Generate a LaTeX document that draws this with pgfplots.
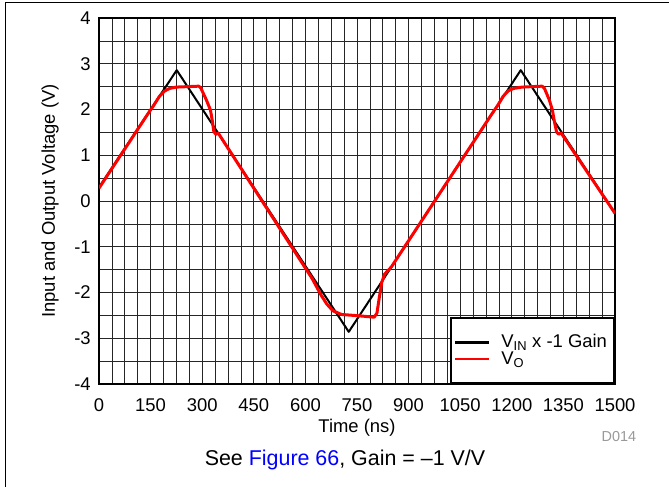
\documentclass[border=0pt]{standalone}
\usepackage{pgfplots}
\pgfplotsset{compat=1.18}
\usepackage{fontspec}
\setmainfont{Liberation Sans}
\definecolor{tired}{RGB}{255,0,0}
\definecolor{tiblue}{RGB}{0,0,255}
\begin{document}
\fontsize{18.5}{22}\selectfont
\begin{tikzpicture}
\useasboundingbox (0bp,0bp) rectangle (669bp,-487bp);
\draw[line width=1.2bp] (5.5bp,-487bp) -- (5.5bp,-2.3bp) -- (669bp,-2.3bp);
\begin{axis}[
  at={(99bp,-384bp)}, anchor=south west,
  scale only axis, width=516bp, height=366bp,
  xmin=0, xmax=1500, ymin=-4, ymax=4,
  xtick={0,150,...,1500}, ytick={-4,-3,...,4},
  minor x tick num=3, minor y tick num=1,
  grid=both,
  major grid style={black!85, line width=0.75bp},
  minor grid style={black!85, line width=0.75bp},
  axis line style={line width=2bp},
  tick style={draw=none},
  ticklabel style={font=\fontsize{18.5}{22}\selectfont},
  xticklabel style={yshift=-8bp},
  yticklabel style={xshift=-2bp},
  /pgf/number format/assume math mode=true,
  /pgf/number format/1000 sep={},
  xlabel={Time (ns)},
  ylabel={Input and Output Voltage (V)},
  label style={font=\fontsize{18.5}{22}\selectfont},
  xlabel style={yshift=5bp},
  ylabel style={yshift=3bp},
  legend style={at={(1,0)}, anchor=south east, draw=black, line width=2bp,
    fill=white, font=\fontsize{18.5}{22}\selectfont, inner xsep=3bp, inner ysep=15bp,
    row sep=-1bp, legend cell align=left, nodes={inner ysep=1bp, inner xsep=4bp}},
  legend image code/.code={\draw[#1, line width=2.4bp] (0bp,0bp) -- (34bp,0bp);},
  clip=true,
]
\addplot[black, line width=2bp, line join=round] coordinates {
  (0,0.30) (226,2.86) (726,-2.86) (1226,2.86) (1500,-0.27)
};
\addlegendentry{\hspace{7bp}V\textsubscript{IN} x -1 Gain}
\addplot[tired, line width=3bp, line join=round] coordinates {
  (0,0.28) (140,1.88) (160,2.10) (175,2.28) (190,2.40) (205,2.46) (225,2.49)
  (290,2.51) (296,2.47) (312,2.21) (324,1.99) (329,1.77) (334,1.51) (340,1.46) (347,1.48)
  (620,-1.70) (645,-2.05) (662,-2.25) (680,-2.40) (705,-2.48) (757,-2.51) (800,-2.54)
  (808,-2.45) (815,-2.10) (822,-1.78) (830,-1.60) (840,-1.52) (850,-1.44)
  (1140,1.88) (1160,2.10) (1175,2.29) (1190,2.41) (1205,2.46) (1230,2.49)
  (1288,2.51) (1295,2.46) (1309,2.21) (1318,1.99) (1323,1.77) (1330,1.51) (1336,1.46) (1343,1.49)
  (1500,-0.27)
};
\addlegendentry{\hspace{7bp}V\textsubscript{O}}
\end{axis}
\node[anchor=center, text=black!40, font=\fontsize{14.5}{17}\selectfont] at (619bp,-437bp) {D014};
\node[anchor=center, font=\fontsize{21.5}{25}\selectfont] at (345bp,-460bp) {See \textcolor{tiblue}{Figure 66}, Gain = –1 V/V};
\end{tikzpicture}
\end{document}
